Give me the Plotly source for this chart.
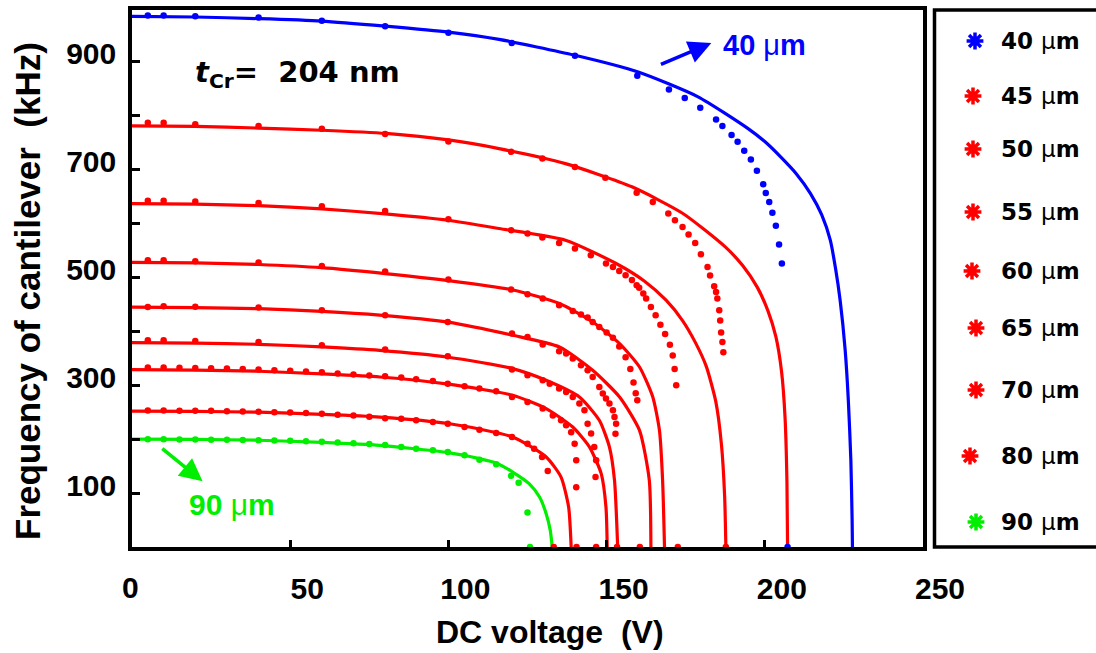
import plotly.graph_objects as go

# ---- measured resonance frequency (kHz) vs DC voltage (V), per cantilever length ----
v40_meas = [5, 10, 20, 40, 60, 80, 100, 120, 140, 159.7, 169.7, 174.7, 179.6, 184.6, 186.6, 189.5,
            191.4, 193.5, 195.6, 197.5, 199.5, 200.3, 201.4, 202.4, 203.5, 204.5, 205.4, 207.2]
f40_meas = [986, 986, 984.6, 982, 976, 966, 954, 935, 911, 874, 848.6, 833, 814.6, 793, 781, 764,
            751.5, 734.8, 718.8, 697.7, 673, 656.8, 640, 620, 596, 561, 526, 0]

v45_meas = [5, 10, 20, 40, 60, 80, 100, 119.8, 129.7, 140, 149.6, 159.5, 164.6, 169.5, 171.6, 174,
            175.9, 178, 179.8, 181.9, 182.7, 184, 184.6, 185, 185.6, 185.9, 186.2, 186.6, 186.9, 187.7]
f45_meas = [787, 787, 784, 781, 775.6, 766, 752, 733, 720.7, 705, 684.7, 657, 640, 618.6, 606, 593.7,
            579.6, 564, 543, 519.5, 503.5, 483.7, 473, 460.8, 439, 420, 398, 380, 361, 0]

v50_meas = [5, 10, 20, 40, 60, 80, 100, 119.8, 125, 129.7, 135, 140, 145, 149.8, 152, 154, 156, 158,
            159.5, 160.3, 161.6, 162.5, 164, 165.5, 167, 168.5, 170, 170.9, 171.5, 172, 172.5]
f50_meas = [642, 642, 641, 638, 632, 623, 608, 587.6, 581.5, 574, 564, 553.6, 541, 525.8, 519.5, 512,
            504, 495, 485.5, 481, 470, 460.8, 445, 430, 412, 395, 375, 355, 330, 300, 0]

v55_meas = [5, 10, 20, 40, 60, 80, 100, 119.8, 125, 129.8, 135, 139.3, 141.9, 144, 145.6, 147.7, 150,
            152, 154, 156, 157.5, 158.5, 159.2, 159.7, 160.5]
f55_meas = [532, 532, 530, 527.6, 521, 511, 496, 477.5, 468.8, 460.8, 448.4, 437.8, 431, 425.6, 417.4,
            408, 398, 388, 372, 352, 330, 305, 285, 272, 0]

v60_meas = [5, 10, 20, 40, 60, 80, 99.8, 120.1, 125, 129.8, 135, 137.2, 139.3, 141.9, 144, 145.6, 147.7,
            148.8, 149.8, 150.9, 152, 152.5, 153, 152.8, 153.3]
f60_meas = [445.3, 446.4, 445.5, 444, 439, 430, 417.4, 395.9, 389.6, 375.5, 363, 358.7, 349.5, 337, 327.8,
            315.3, 296.8, 284.5, 275.2, 266, 253.5, 241, 228.8, 210, 0]

v65_meas = [5, 10, 20, 40, 60, 80, 99.8, 120.1, 125, 129.8, 132, 135, 137.2, 139.3, 141.4, 143, 144,
            145.1, 146.1, 146.7, 146.5, 146.7]
f65_meas = [383.4, 383.4, 382.2, 380.3, 374.2, 366.2, 353.7, 329, 318.5, 309.2, 303, 293.8, 287.5, 278.2,
            266, 253.5, 228.8, 210.3, 185.4, 160.7, 129.7, 0]

v70_meas = [5, 10, 15, 20, 25, 30, 35, 40, 45, 50, 55, 60, 65, 70, 75, 80, 85.1, 89.8, 95.1, 99.8,
            105.1, 109.8, 115.1, 120.1, 125, 129.8, 133, 135.6, 137.2, 138.8, 139.9, 140.4, 140.4, 140.5]
f70_meas = [333, 333, 332.5, 332, 331.5, 331, 330, 329, 328, 327, 325.5, 324, 322, 320, 318, 316.5,
            314.2, 311, 308, 303, 298, 293.8, 288.8, 278, 269, 256.7, 244, 235, 225.7, 213, 191.7,
            160.7, 111, 0]

v80_meas = [5, 10, 15, 20, 25, 30, 35, 40, 45, 50, 55, 60, 65, 70, 75, 80, 85.1, 89.8, 95.1, 99.8,
            105.1, 109.8, 115.1, 120.1, 125, 127.1, 129.6, 131.4, 133.3]
f80_meas = [253, 253, 252.5, 252.5, 252.5, 252, 251.5, 251, 250, 249.5, 248.5, 247, 245.5, 244, 241.5,
            239, 238, 235, 231.8, 228.8, 222.5, 217.7, 211.4, 204, 191.7, 182.4, 166.9, 141, 0]

v90_meas = [5, 10, 15, 20, 25, 30, 35, 40, 45, 50, 55, 60, 65, 70, 75, 80, 85.1, 89.8, 95.1, 99.8,
            105.1, 109.8, 115.1, 119.8, 122.2, 125, 125.8]
f90_meas = [200, 200, 199.5, 199.5, 199, 199, 198.5, 198, 197.5, 197, 196, 195, 194, 192.5, 191, 189,
            185.4, 182.4, 179.3, 176.1, 170, 162, 153.3, 132, 119, 64, 0]

# ---- fitted model curves ----
v40_fit = [0, 20, 40, 60, 80, 100, 116, 140, 160, 178.9, 194.5, 200, 205, 210, 214.4, 218, 220.7, 222.4,
           223.8, 225.4, 226.4, 227.2, 227.6, 227.7]
f40_fit = [984, 983, 980, 975.5, 966, 955, 941.5, 912, 881, 835, 777, 752, 723.6, 692, 656, 616, 569, 515,
           458, 365, 272, 161, 49, 0]

v45_fit = [0, 20, 40, 60, 80.3, 100, 116, 137, 158, 174, 187.5, 193, 197.6, 201, 203.5, 205.3, 206.4, 207,
           207.2]
f45_fit = [781, 780, 777, 773, 767, 755, 739, 711, 668, 619, 556.6, 522, 482, 438, 390, 325, 240, 120, 0]

v50_fit = [0, 20, 40, 60, 80, 100, 116, 137, 153, 162, 168.8, 174, 178, 181.5, 184.5, 186.3, 187.3, 187.7]
f50_fit = [637, 636, 633, 627, 618, 606, 590.7, 569, 525.8, 493, 457.7, 420, 380, 335, 270, 190, 95, 0]

v55_fit = [0, 20, 40, 60, 80, 100, 120.4, 135.1, 145.6, 154.1, 160.4, 164.6, 166.7, 167.7, 168.3]
f55_fit = [528, 527, 524, 518, 507, 494, 476.6, 451.6, 417.4, 377.3, 333.9, 278.2, 216.4, 123.6, 0]

v60_fit = [0, 20, 40, 60, 78.3, 99.8, 120.3, 135.1, 145.6, 154.1, 160.4, 163.5, 164.0]
f60_fit = [445, 444, 442, 437, 430, 417, 392.7, 371, 327.8, 278.2, 216.4, 123.6, 0]

v65_fit = [0, 20, 40, 60, 78.3, 100, 120.3, 130.9, 141.4, 147.7, 150.9, 152.5, 153.5]
f65_fit = [379, 378, 376, 371, 364.6, 352, 330.9, 309.2, 278.2, 235, 185.4, 123.6, 0]

v70_fit = [0, 20, 40, 60, 78.3, 100, 120.3, 130.9, 139.3, 144.6, 148.3, 149.8, 150.2]
f70_fit = [329, 328, 326, 321, 315.3, 302, 281.4, 256.7, 222.5, 185.4, 136, 74, 0]

v80_fit = [0, 20, 40, 60, 78.3, 100, 120.3, 130.9, 135.6, 138, 138.8]
f80_fit = [252, 251.5, 250, 246, 241, 229, 204, 166.9, 129.7, 74, 0]

v90_fit = [0, 20, 40, 60, 78.3, 100, 109.8, 115.1, 120.3, 125.5, 128.8, 130.9, 132.2, 132.8]
f90_fit = [200, 199.5, 198, 194, 188.6, 175, 163.9, 155.7, 139, 117.5, 92.6, 61.8, 30.8, 0]

lengths = ["40", "45", "50", "55", "60", "65", "70", "80", "90"]
BLUE, RED, GREEN = "#0000ff", "#ff0000", "#00ee00"
colors = [BLUE, RED, RED, RED, RED, RED, RED, RED, GREEN]

meas = [(v40_meas, f40_meas), (v45_meas, f45_meas), (v50_meas, f50_meas), (v55_meas, f55_meas),
        (v60_meas, f60_meas), (v65_meas, f65_meas), (v70_meas, f70_meas), (v80_meas, f80_meas),
        (v90_meas, f90_meas)]
fits = [(v40_fit, f40_fit), (v45_fit, f45_fit), (v50_fit, f50_fit), (v55_fit, f55_fit),
        (v60_fit, f60_fit), (v65_fit, f65_fit), (v70_fit, f70_fit), (v80_fit, f80_fit),
        (v90_fit, f90_fit)]

# key panel rows (pixel positions inside the key panel axes)
legend_row_y = [41, 96, 149, 212, 271, 328, 390, 456, 522]
legend_marker_x = [975, 973, 973, 973, 972, 976, 976, 970, 976]

FONT = "Liberation Sans, Arial, Helvetica, sans-serif"
WIDE = "DejaVu Sans, Liberation Sans, sans-serif"
MU = '<span style="font-weight:normal">\u03bc</span>'

fig = go.Figure()

for (vf, ff), c in zip(fits, colors):
    fig.add_trace(go.Scatter(x=vf, y=ff, mode="lines",
                             line=dict(color=c, width=3.2, shape="spline", smoothing=0.6),
                             showlegend=False, hoverinfo="skip"))
for (vm, fm), c, L in zip(meas, colors, lengths):
    fig.add_trace(go.Scatter(x=vm, y=fm, mode="markers", marker=dict(color=c, size=6.5),
                             name=L + " \u03bcm", showlegend=False))

# key panel markers (starburst = filled dot + thick asterisk)
fig.add_trace(go.Scatter(x=legend_marker_x, y=legend_row_y, xaxis="x2", yaxis="y2", mode="markers",
                         marker=dict(symbol="circle", size=9, color=colors),
                         showlegend=False, hoverinfo="skip"))
fig.add_trace(go.Scatter(x=legend_marker_x, y=legend_row_y, xaxis="x2", yaxis="y2", mode="markers",
                         marker=dict(symbol="asterisk-open", size=14, color=colors, line=dict(width=3.5)),
                         showlegend=False, hoverinfo="skip"))

annotations = []
for L, yrow in zip(lengths, legend_row_y):
    annotations.append(dict(xref="x2", yref="y2", x=999, y=yrow, xanchor="left", yanchor="middle",
                            text=f"<b>{L} {MU}m</b>", showarrow=False,
                            font=dict(family=WIDE, size=23, color="black")))

# in-plot labels
annotations += [
    dict(xref="x", yref="y", x=19.2, y=877, xanchor="left", yanchor="middle", showarrow=False,
         text="<b><i>t</i><sub>Cr</sub>=  204 nm</b>", font=dict(family=WIDE, size=29, color="black")),
    dict(xref="x", yref="y", x=199.8, y=931, xanchor="center", yanchor="middle", showarrow=False,
         text=f"<b>40 {MU}m</b>", font=dict(family=FONT, size=29, color=BLUE)),
    dict(xref="x", yref="y", x=31.6, y=79, xanchor="center", yanchor="middle", showarrow=False,
         text=f"<b>90 {MU}m</b>", font=dict(family=FONT, size=30, color=GREEN)),
    # arrows
    dict(xref="x", yref="y", axref="x", ayref="y", x=183.1, y=934.7, ax=166.7, ay=893.8, text="",
         showarrow=True, arrowhead=2, arrowsize=1.3, arrowwidth=3.5, arrowcolor=BLUE),
    dict(xref="x", yref="y", axref="x", ayref="y", x=22.3, y=121.8, ax=9.1, ay=184.9, text="",
         showarrow=True, arrowhead=2, arrowsize=1.3, arrowwidth=3.5, arrowcolor=GREEN),
    # axis titles
    dict(xref="paper", yref="paper", x=(550 - 132) / 964, y=0, yshift=-85, xanchor="center", yanchor="middle",
         showarrow=False, text="<b>DC voltage  (V)</b>", font=dict(family=FONT, size=32, color="black")),
    dict(xref="paper", yref="paper", x=0, xshift=-105, y=(547 - 291) / 537, xanchor="center", yanchor="middle",
         showarrow=False, textangle=-90, text="<b>Frequency of cantilever  (kHz)</b>",
         font=dict(family=FONT, size=35, color="black")),
    # origin label
    dict(xref="x", yref="paper", x=0, xshift=-2, y=0, yshift=-40, xanchor="center", yanchor="middle",
         showarrow=False, text="<b>0</b>", font=dict(family=FONT, size=30, color="black")),
]

main_w = 791 / 964
panel_x0 = (934.5 - 132) / 964
fig.update_layout(
    width=1096, height=653,
    margin=dict(l=132, r=0, t=10, b=106, autoexpand=False),
    paper_bgcolor="white", plot_bgcolor="white",
    showlegend=False,
    xaxis=dict(domain=[0, main_w], range=[0, 250], showgrid=False, zeroline=False, automargin=False,
               showline=True, linecolor="black", linewidth=3.5, mirror=True,
               ticks="inside", ticklen=7, tickwidth=3, tickcolor="black",
               tickvals=[50, 100, 150, 200, 250], ticktext=["50", "100", "150", "200", "250"],
               ticklabelshift=17, ticklabelstandoff=12,
               tickfont=dict(family=FONT, size=30, color="black", weight="bold")),
    yaxis=dict(range=[0, 996], showgrid=False, zeroline=False, automargin=False,
               showline=True, linecolor="black", linewidth=3.5, mirror=True,
               ticks="inside", ticklen=8, tickwidth=3, tickcolor="black",
               tickvals=[100, 200, 300, 400, 500, 600, 700, 800, 900],
               ticktext=["100", "", "300", "", "500", "", "700", "", "900"],
               ticklabelshift=-8, ticklabelstandoff=6,
               tickfont=dict(family=FONT, size=30, color="black", weight="bold")),
    xaxis2=dict(domain=[panel_x0, 1], range=[934.5, 1096], visible=False, fixedrange=True, automargin=False),
    yaxis2=dict(domain=[0, 1], range=[547, 10], visible=False, anchor="x2", fixedrange=True, automargin=False),
    annotations=annotations,
    shapes=[dict(type="rect", xref="paper", yref="paper", x0=panel_x0, x1=1.05, y0=0, y1=1,
                 line=dict(color="black", width=3.5), fillcolor="rgba(0,0,0,0)")],
)

fig.write_html("out.html")
